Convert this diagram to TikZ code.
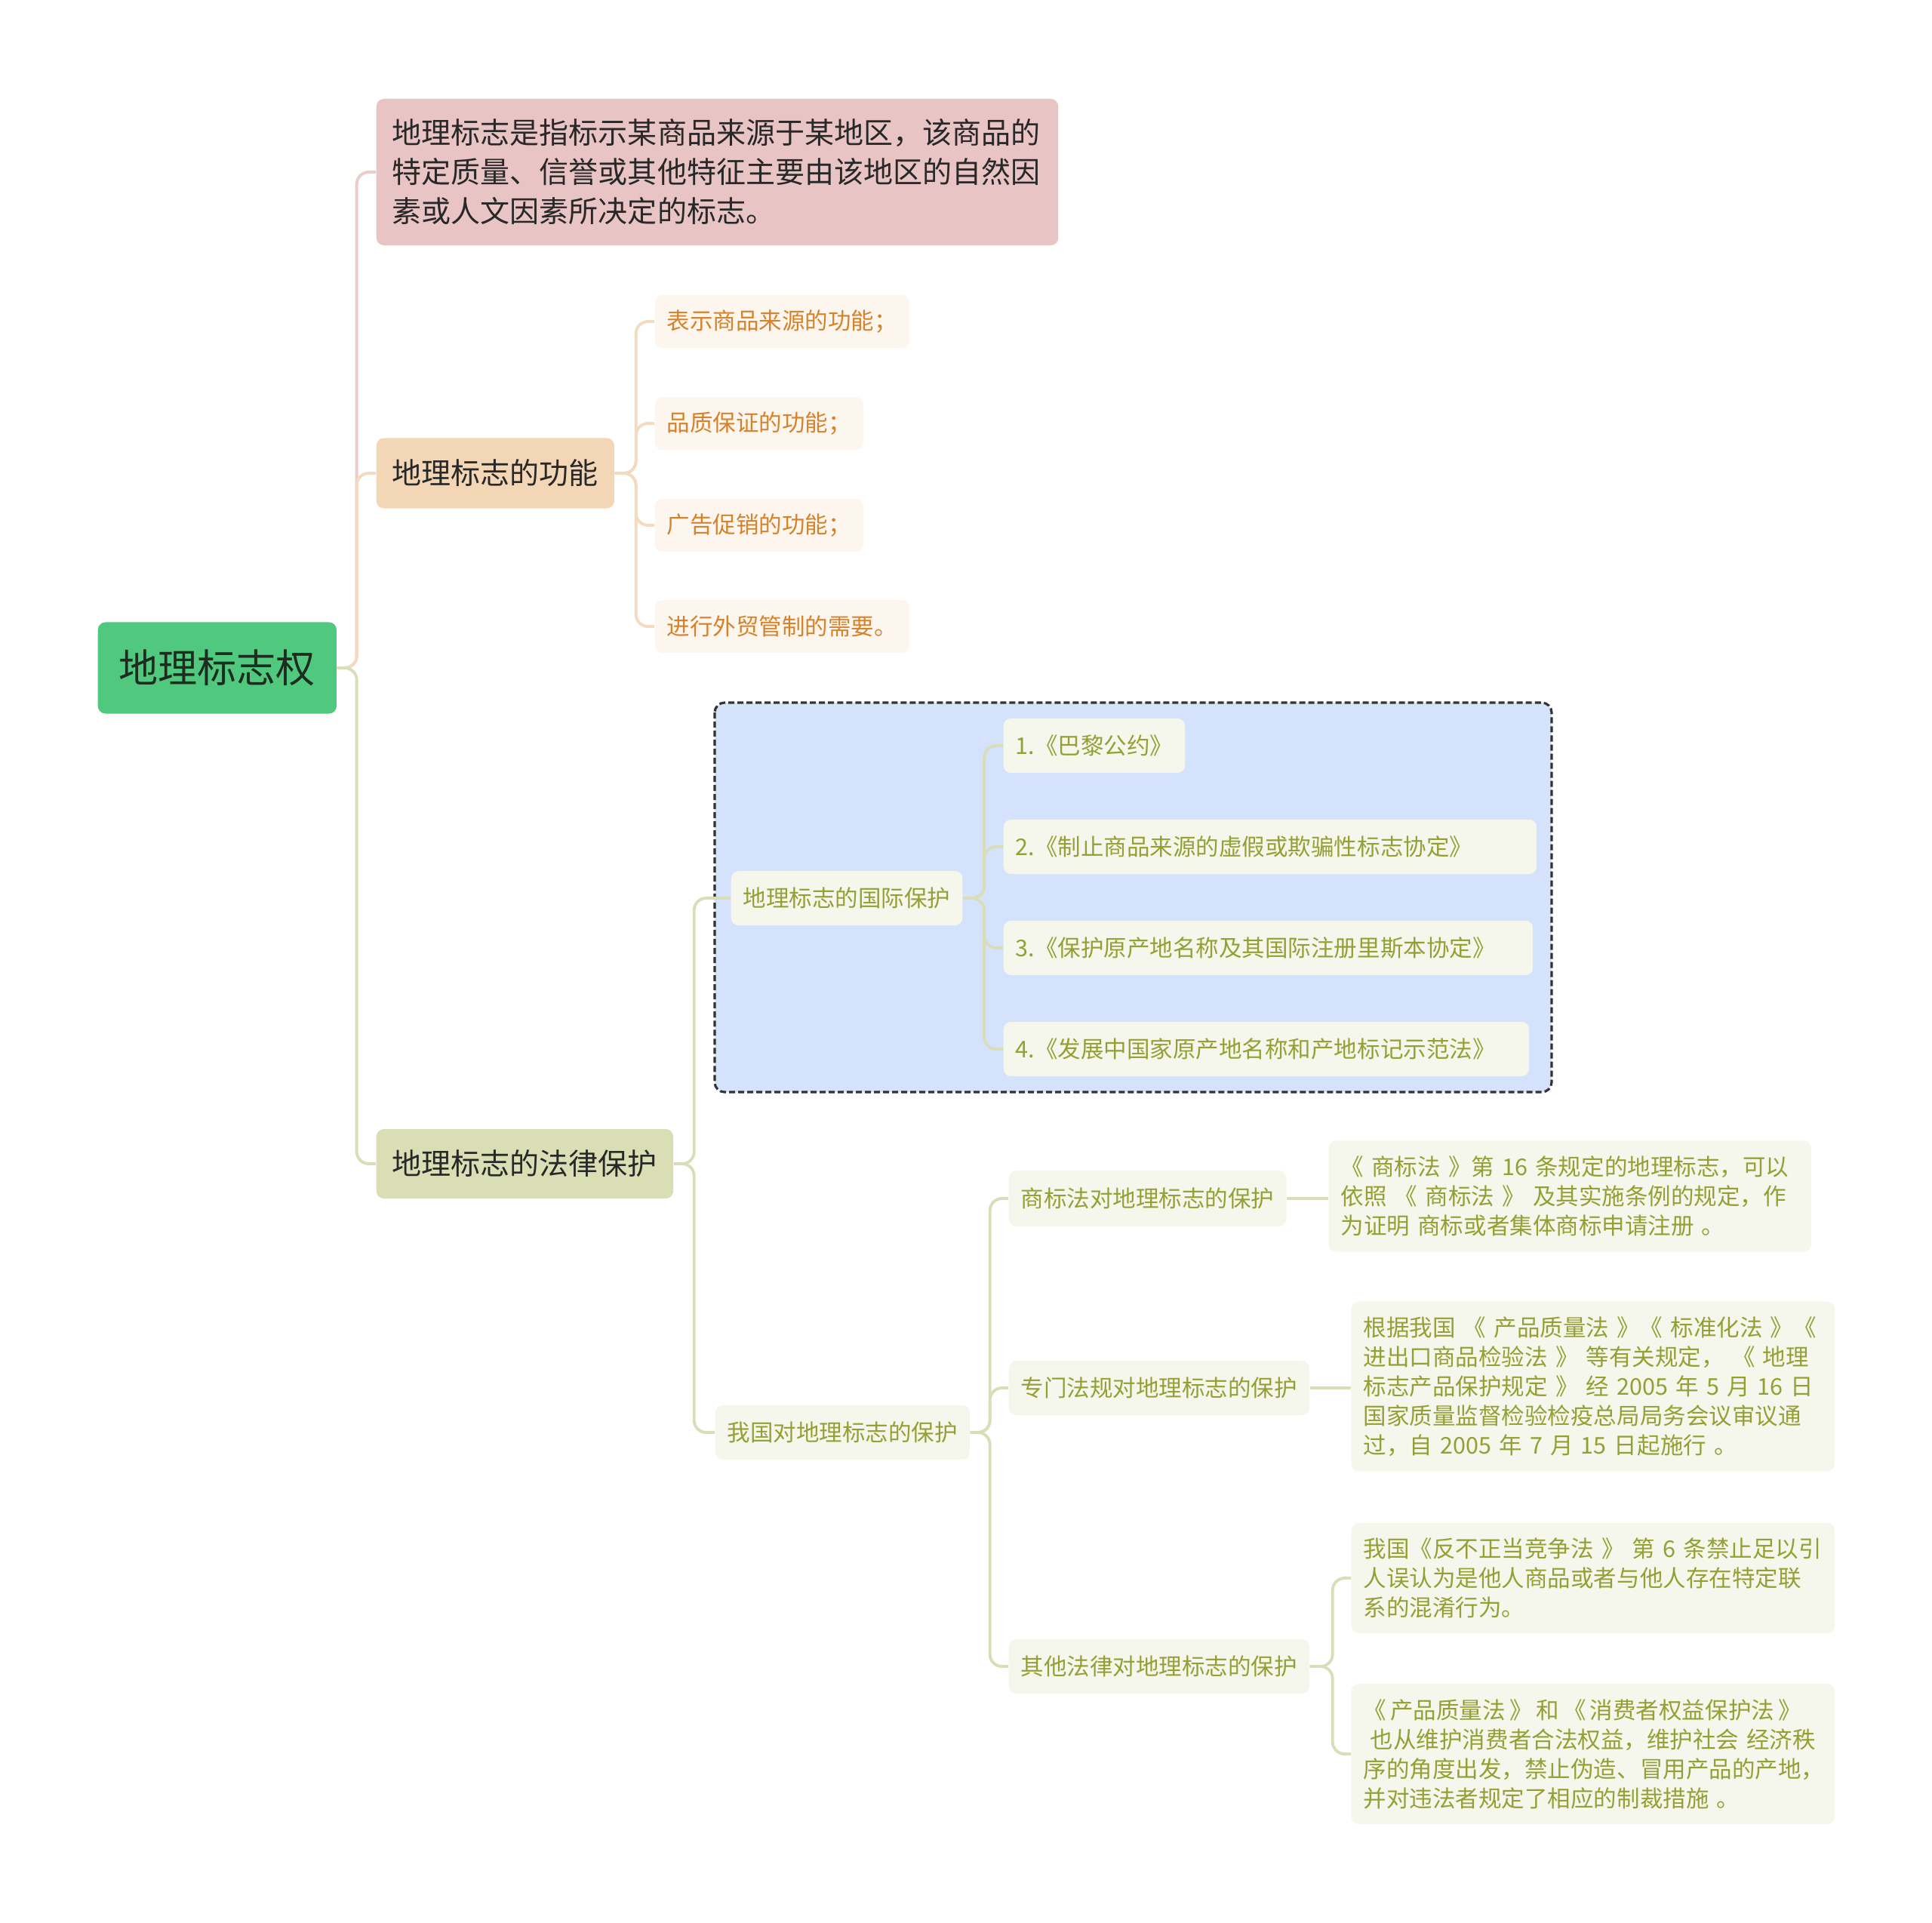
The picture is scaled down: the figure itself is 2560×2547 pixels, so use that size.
\documentclass[tikz,border=0pt]{standalone}
\usepackage{fontspec}
\setmainfont{Noto Sans CJK SC}
\usetikzlibrary{positioning}

\definecolor{rootgreen}{RGB}{80,201,126}
\definecolor{rootink}{RGB}{28,44,30}
\definecolor{darkink}{RGB}{40,40,40}
\definecolor{pinkfill}{RGB}{232,196,196}
\definecolor{pinkline}{RGB}{234,204,204}
\definecolor{peachfill}{RGB}{243,214,182}
\definecolor{peachline}{RGB}{244,218,190}
\definecolor{orangefill}{RGB}{253,246,238}
\definecolor{orangeink}{RGB}{214,130,42}
\definecolor{olivebox}{RGB}{218,222,180}
\definecolor{oliveline}{RGB}{218,222,184}
\definecolor{olivefill}{RGB}{245,247,236}
\definecolor{oliveink}{RGB}{148,160,52}
\definecolor{intlfill}{RGB}{212,227,251}

\begin{document}
\begin{tikzpicture}[x=0.01cm, y=-0.01cm,
    box/.style={rounded corners=0.1cm, inner ysep=0pt, anchor=west},
    rootbox/.style={box, fill=rootgreen, text=rootink, inner xsep=0.28cm, minimum height=1.21cm, font=\fontsize{14.8}{18}\selectfont},
    topic/.style={box, text=darkink, inner xsep=0.21cm, font=\fontsize{11.1}{14.8}\selectfont},
    leaf/.style={box, fill=olivefill, text=oliveink, inner xsep=0.16cm, minimum height=0.72cm, font=\fontsize{8.68}{11.1}\selectfont},
    orleaf/.style={leaf, fill=orangefill, text=orangeink, minimum height=0.7cm},
    note/.style={leaf, text width=6.08cm, align=left},
    link/.style={line width=1.1pt, rounded corners=0.16cm},
]
    \useasboundingbox (0,0) rectangle (2560,2547);

    % group frame
    \draw[fill=intlfill, draw=black!80, line width=0.9pt, dash pattern=on 0.08cm off 0.04cm, rounded corners=0.13cm] (947,931) rectangle (2056,1447);

    \node[rootbox] (root) at (129,885) {地理标志权};

    \node[topic, fill=pinkfill, text width=8.61cm, align=left, minimum height=1.94cm] (def) at (498,228) {地理标志是指标示某商品来源于某地区，该商品的\\特定质量、信誉或其他特征主要由该地区的自然因\\素或人文因素所决定的标志。};
    \node[topic, fill=peachfill, minimum height=0.93cm] (func) at (498,627) {地理标志的功能};
    \node[topic, fill=olivebox, minimum height=0.92cm] (legal) at (498,1542) {地理标志的法律保护};

    \node[orleaf] (f1) at (867,426) {表示商品来源的功能；};
    \node[orleaf] (f2) at (867,561) {品质保证的功能；};
    \node[orleaf] (f3) at (867,696) {广告促销的功能；};
    \node[orleaf] (f4) at (867,830) {进行外贸管制的需要。};

    \node[leaf] (intl) at (968,1190) {地理标志的国际保护};
    \node[leaf] (i1) at (1329,988) {1.《巴黎公约》};
    \node[leaf, text width=6.74cm, align=left] (i2) at (1329,1122) {2.《制止商品来源的虚假或欺骗性标志协定》};
    \node[leaf, text width=6.69cm, align=left] (i3) at (1329,1256) {3.《保护原产地名称及其国际注册里斯本协定》};
    \node[leaf, text width=6.64cm, align=left] (i4) at (1329,1390) {4.《发展中国家原产地名称和产地标记示范法》};

    \node[leaf] (cn) at (947,1898) {我国对地理标志的保护};
    \node[leaf, minimum height=0.74cm] (c1) at (1336,1588) {商标法对地理标志的保护};
    \node[leaf] (c2) at (1336,1839) {专门法规对地理标志的保护};
    \node[leaf] (c3) at (1336,2208) {其他法律对地理标志的保护};

    \node[note, text width=6.07cm, minimum height=1.47cm] (d1) at (1760,1585) {《 商标法 》第 16 条规定的地理标志，可以\\依照 《 商标法 》 及其实施条例的规定，作\\为证明 商标或者集体商标申请注册 。};
    \node[note, minimum height=2.25cm] (d2) at (1790,1837) {根据我国 《 产品质量法 》《 标准化法 》《\\进出口商品检验法 》 等有关规定，  《 地理\\标志产品保护规定 》 经 2005 年 5 月 16 日\\国家质量监督检验检疫总局局务会议审议通\\过，自 2005 年 7 月 15 日起施行 。};
    \node[note, minimum height=1.46cm] (d3) at (1790,2091) {我国《反不正当竞争法 》 第 6 条禁止足以引\\人误认为是他人商品或者与他人存在特定联\\系的混淆行为。};
    \node[note, minimum height=1.86cm] (d4) at (1790,2324) {《\,产品质量法\,》\,和\,《\,消费者权益保护法\,》\\\hspace*{0.3em}也从维护消费者合法权益，维护社会 经济秩\\序的角度出发，禁止伪造、冒用产品的产地，\\并对违法者规定了相应的制裁措施 。};

    % branches
    \draw[link, pinkline] (root.east) -- ++(26,0) |- (def.west);
    \draw[link, peachline] (root.east) -- ++(26,0) |- (func.west);
    \draw[link, oliveline] (root.east) -- ++(26,0) |- (legal.west);
    \foreach \n in {f1,f2,f3,f4}
        \draw[link, peachline] (func.east) -- ++(28,0) |- (\n.west);
    \foreach \n in {intl,cn}
        \draw[link, oliveline] (legal.east) -- ++(27,0) |- (\n.west);
    \foreach \n in {i1,i2,i3,i4}
        \draw[link, oliveline] (intl.east) -- ++(28,0) |- (\n.west);
    \foreach \n in {c1,c2,c3}
        \draw[link, oliveline] (cn.east) -- ++(26,0) |- (\n.west);
    \draw[link, oliveline] (c1.east) -- (c1.east -| d1.west);
    \draw[link, oliveline] (c2.east) -- (c2.east -| d2.west);
    \foreach \n in {d3,d4}
        \draw[link, oliveline] (c3.east) -- ++(30,0) |- (\n.west);
\end{tikzpicture}
\end{document}
